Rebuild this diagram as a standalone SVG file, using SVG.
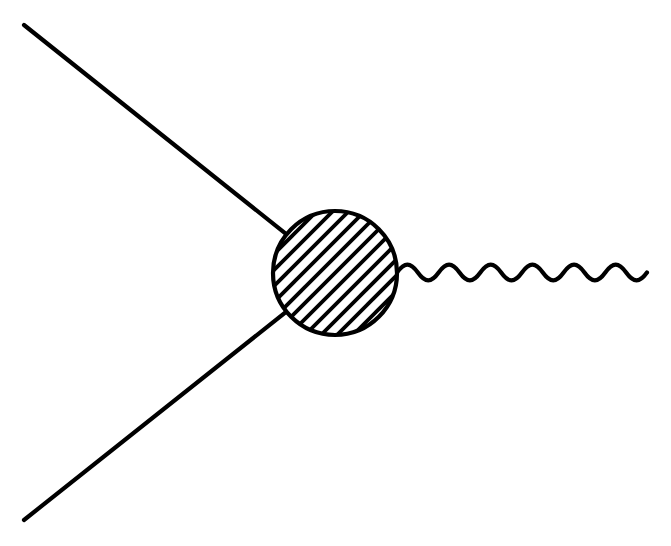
<svg xmlns="http://www.w3.org/2000/svg" width="671" height="546" viewBox="0 0 671 546">
<style>
.ln{stroke:#000;stroke-width:4.2;fill:none;stroke-linecap:round}
.hatch{stroke:#000;stroke-width:3.8}
</style>
<defs>
<clipPath id="blobclip"><circle cx="335" cy="273" r="62"/></clipPath>
</defs>
<rect width="671" height="546" fill="#fff"/>
<g id="connectors">
<line class="ln" x1="24" y1="25" x2="335" y2="273"/>
<line class="ln" x1="24" y1="520" x2="335" y2="273"/>
<path class="ln" d="M397,272.5 c7.5,-10.5 13.33,-10.5 20.83,0 c7.5,10.5 13.33,10.5 20.83,0 c7.5,-10.5 13.33,-10.5 20.83,0 c7.5,10.5 13.33,10.5 20.83,0 c7.5,-10.5 13.33,-10.5 20.83,0 c7.5,10.5 13.33,10.5 20.83,0 c7.5,-10.5 13.33,-10.5 20.83,0 c7.5,10.5 13.33,10.5 20.83,0 c7.5,-10.5 13.33,-10.5 20.83,0 c7.5,10.5 13.33,10.5 20.83,0 c7.5,-10.5 13.33,-10.5 20.83,0 c7.5,10.5 13.33,10.5 20.83,0"/>
</g>
<g id="blob">
<circle cx="335" cy="273" r="62" fill="#fff"/>
<g clip-path="url(#blobclip)" class="hatch">
<line x1="200" y1="328" x2="328" y2="200"/>
<line x1="200" y1="344" x2="344" y2="200"/>
<line x1="200" y1="360" x2="360" y2="200"/>
<line x1="200" y1="376" x2="376" y2="200"/>
<line x1="200" y1="392" x2="392" y2="200"/>
<line x1="200" y1="408" x2="408" y2="200"/>
<line x1="200" y1="424" x2="424" y2="200"/>
<line x1="200" y1="440" x2="440" y2="200"/>
<line x1="200" y1="456" x2="456" y2="200"/>
<line x1="200" y1="472" x2="472" y2="200"/>
<line x1="200" y1="488" x2="488" y2="200"/>
<line x1="200" y1="504" x2="504" y2="200"/>
</g>
<circle cx="335" cy="273" r="62" fill="none" stroke="#000" stroke-width="4.2"/>
</g>
</svg>
